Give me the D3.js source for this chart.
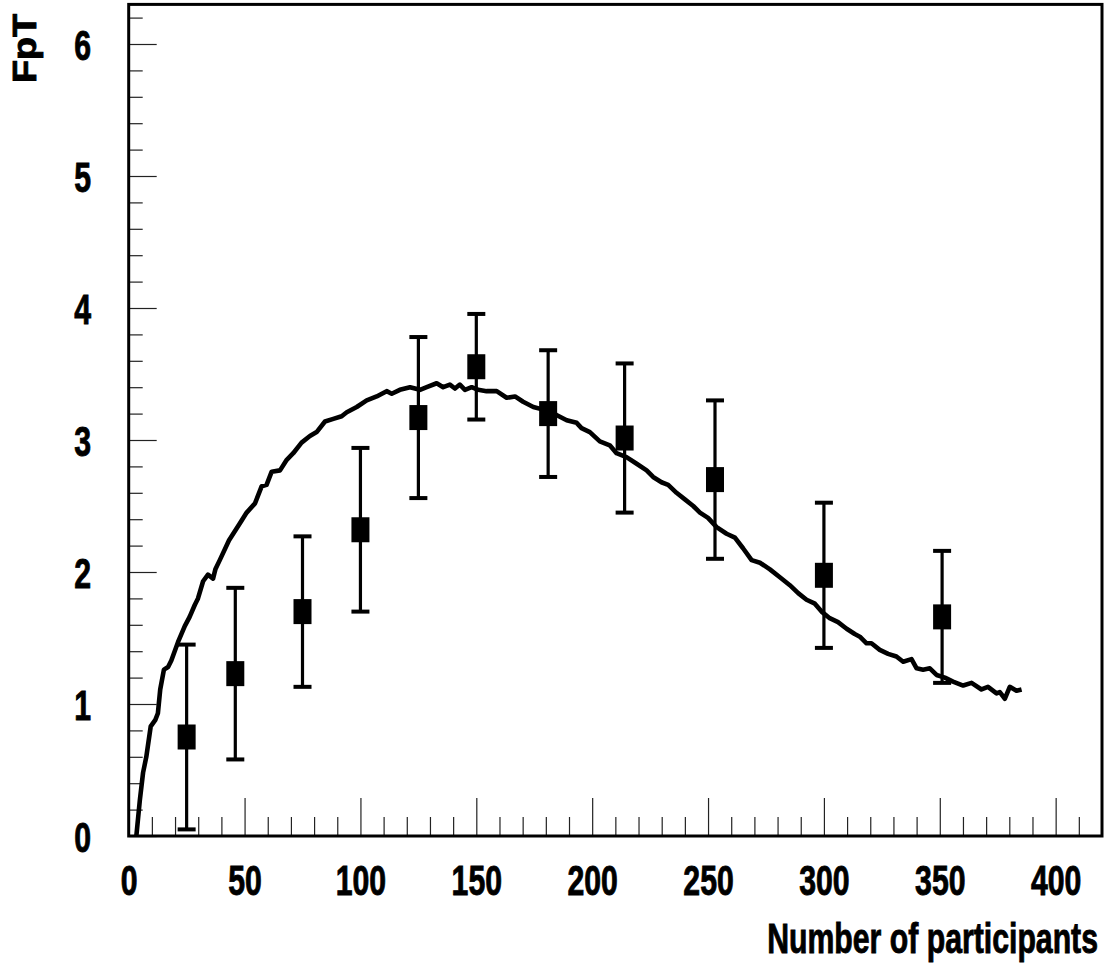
<!DOCTYPE html>
<meta charset="utf-8">
<script src="https://d3js.org/d3.v7.min.js"></script>
<style>
  body { margin: 0; background: #fff; }
  text { font-family: "Liberation Sans", Arial, sans-serif; font-weight: bold; fill: #000; stroke: #000; stroke-width: 0.9px; }
</style>
<div id="chart"></div>
<script>

// measured points with symmetric errors
const npart = [25, 46, 75, 100, 125, 150, 181, 214, 253, 300, 351];
const fpt = [0.75, 1.23, 1.70, 2.32, 3.17, 3.555, 3.20, 3.015, 2.70, 1.975, 1.66];
const fptErr = [0.70, 0.65, 0.57, 0.62, 0.61, 0.40, 0.48, 0.565, 0.60, 0.55, 0.50];

// model curve
const curveX = [3.3, 4.8, 6.2, 7.6, 9.5, 11.5, 12.6, 13.6, 15.2, 17.0,
  18.4, 21.3, 24.2, 26.3, 28.5, 29.9, 32.1, 34.2, 36.4, 37.4,
  39.3, 43.3, 48.0, 50.9, 54.5, 57.4, 59.5, 61.7, 65.3, 68.2,
  71.0, 74.6, 78.2, 81.1, 84.7, 88.3, 91.9, 94.1, 98.4, 102.7,
  107.0, 111.3, 113.5, 117.0, 121.4, 125.7, 128.6, 132.9, 135.7, 138.6,
  140.8, 142.9, 145.1, 148.0, 150.8, 154.4, 158.8, 163.1, 166.7, 170.2,
  174.6, 178.9, 184.6, 189.0, 193.3, 195.4, 199.0, 203.3, 207.6, 210.5,
  214.8, 219.2, 223.5, 226.3, 229.9, 232.8, 236.4, 240.0, 243.6, 246.5,
  250.0, 253.7, 258.0, 261.6, 265.1, 268.8, 272.4, 276.7, 281.0, 285.3,
  288.9, 292.5, 296.1, 299.0, 302.5, 306.1, 309.8, 313.3, 315.5, 318.4,
  320.5, 324.1, 327.7, 331.3, 334.2, 337.8, 340.0, 342.8, 345.7, 348.6,
  352.2, 355.7, 360.1, 363.7, 368.0, 370.8, 374.5, 375.9, 378.1, 380.2,
  383.1, 385.3];
const curveY = [0.00, 0.27, 0.48, 0.60, 0.83, 0.88, 0.93, 1.11, 1.26, 1.28,
  1.33, 1.47, 1.59, 1.66, 1.75, 1.80, 1.93, 1.98, 1.95, 2.02,
  2.09, 2.24, 2.37, 2.45, 2.52, 2.65, 2.66, 2.76, 2.77, 2.85,
  2.90, 2.98, 3.03, 3.06, 3.14, 3.16, 3.18, 3.21, 3.25, 3.30,
  3.33, 3.37, 3.35, 3.38, 3.40, 3.38, 3.40, 3.43, 3.40, 3.42,
  3.39, 3.42, 3.38, 3.40, 3.38, 3.37, 3.37, 3.32, 3.33, 3.29,
  3.25, 3.23, 3.19, 3.15, 3.13, 3.09, 3.06, 2.99, 2.96, 2.90,
  2.87, 2.82, 2.77, 2.72, 2.68, 2.66, 2.60, 2.55, 2.50, 2.45,
  2.41, 2.34, 2.29, 2.26, 2.18, 2.09, 2.07, 2.02, 1.96, 1.90,
  1.84, 1.79, 1.76, 1.70, 1.65, 1.62, 1.57, 1.53, 1.51, 1.46,
  1.46, 1.41, 1.38, 1.36, 1.32, 1.34, 1.27, 1.26, 1.27, 1.22,
  1.20, 1.17, 1.14, 1.16, 1.11, 1.13, 1.08, 1.09, 1.04, 1.13,
  1.10, 1.11];

// axis ticks
const xMajor = [0, 50, 100, 150, 200, 250, 300, 350, 400];
const xMinor = d3.range(10, 420, 10).filter(v => v % 50 !== 0);
const yMajor = [0, 1, 2, 3, 4, 5, 6];
const yMinor = d3.range(1, 32).map(i => i / 5).filter(v => Math.abs(v - Math.round(v)) > 1e-6);

const W = 1112, H = 973;
const plotL = 128.7, plotR = 1102, plotT = 4.4, plotB = 836;
const sx = 0.72; // condensed text

const svg = d3.select("#chart").append("svg")
    .attr("width", W)
    .attr("height", H);

const x = d3.scaleLinear().domain([0, 420]).range([plotL, plotR]);
const y = d3.scaleLinear().domain([0, 6.3]).range([plotB, plotT]);

// x axis ticks (inside the frame)
const gx = svg.append("g")
    .attr("transform", "translate(0," + plotB + ")")
    .call(d3.axisBottom(x).tickValues(xMajor).tickSizeInner(-38).tickSizeOuter(0).tickPadding(0));
gx.select(".domain").remove();
gx.selectAll(".tick line").attr("stroke", "#222").attr("stroke-width", 1.2);
gx.selectAll(".tick text")
    .attr("y", 59).attr("dy", null)
    .attr("transform", "scale(" + sx + ",1)")
    .style("font-size", "42px");

const gxm = svg.append("g")
    .attr("transform", "translate(0," + plotB + ")")
    .call(d3.axisBottom(x).tickValues(xMinor).tickSizeInner(-19).tickSizeOuter(0).tickFormat(""));
gxm.select(".domain").remove();
gxm.selectAll(".tick line").attr("stroke", "#222").attr("stroke-width", 1.2);

// y axis ticks
const gy = svg.append("g")
    .attr("transform", "translate(" + plotL + ",0)")
    .call(d3.axisLeft(y).tickValues(yMajor).tickSizeInner(-28).tickSizeOuter(0).tickFormat(d3.format("d")));
gy.select(".domain").remove();
gy.selectAll(".tick line").attr("stroke", "#222").attr("stroke-width", 1.2);
gy.selectAll(".tick text")
    .attr("x", 0).attr("dy", null).attr("y", 0)
    .attr("text-anchor", "end")
    .attr("transform", "translate(" + (91 - plotL) + ",15.5) scale(" + sx + ",1)")
    .style("font-size", "42px");

const gym = svg.append("g")
    .attr("transform", "translate(" + plotL + ",0)")
    .call(d3.axisLeft(y).tickValues(yMinor).tickSizeInner(-14).tickSizeOuter(0).tickFormat(""));
gym.select(".domain").remove();
gym.selectAll(".tick line").attr("stroke", "#222").attr("stroke-width", 1.2);

// frame
svg.append("rect")
    .attr("x", plotL).attr("y", plotT)
    .attr("width", plotR - plotL).attr("height", plotB - plotT)
    .attr("fill", "none")
    .attr("stroke", "#000")
    .attr("stroke-width", 3);

// curve
const line = d3.line()
    .x((d, i) => x(curveX[i]))
    .y(d => y(d));

svg.append("path")
    .datum(curveY)
    .attr("d", line)
    .attr("fill", "none")
    .attr("stroke", "#000")
    .attr("stroke-width", 4.6)
    .attr("stroke-linejoin", "round");

// error bars and markers
const pts = svg.append("g")
  .selectAll("g")
  .data(npart)
  .join("g");

pts.append("line")
    .attr("x1", d => x(d)).attr("x2", d => x(d))
    .attr("y1", (d, i) => y(fpt[i] + fptErr[i]))
    .attr("y2", (d, i) => y(fpt[i] - fptErr[i]))
    .attr("stroke", "#000").attr("stroke-width", 3.2);

pts.append("rect")
    .attr("x", d => x(d) - 9).attr("width", 18)
    .attr("y", (d, i) => y(fpt[i] + fptErr[i]) - 2).attr("height", 4);

pts.append("rect")
    .attr("x", d => x(d) - 9).attr("width", 18)
    .attr("y", (d, i) => y(fpt[i] - fptErr[i]) - 2).attr("height", 4);

pts.append("rect")
    .attr("x", d => x(d) - 9).attr("width", 18)
    .attr("y", (d, i) => y(fpt[i]) - 12.5).attr("height", 25);

// axis titles
svg.append("text")
    .attr("transform", "translate(1098,953) scale(" + sx + ",1)")
    .attr("text-anchor", "end")
    .style("font-size", "42px")
    .text("Number of participants");

svg.append("text")
    .attr("transform", "translate(36,83) rotate(-90) scale(1.16,1)")
    .style("font-size", "32.5px")
    .text("FpT");

</script>
